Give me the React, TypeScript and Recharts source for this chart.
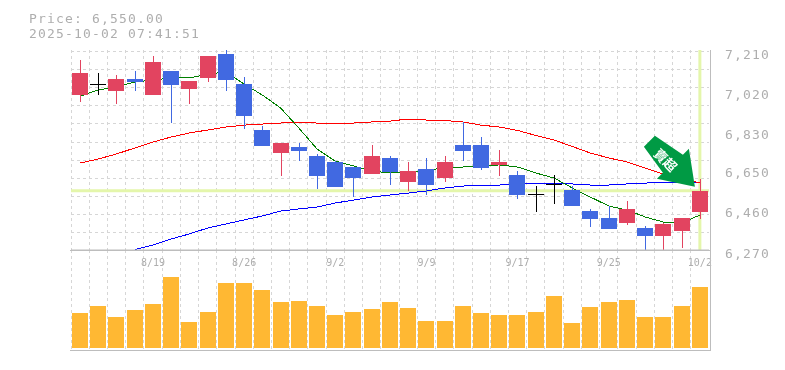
import React from "react";
import { ComposedChart, Bar, Line, XAxis, YAxis, CartesianGrid, ReferenceLine, ReferenceDot } from "recharts";

const dates = ["8/13","8/14","8/15","8/18","8/19","8/20","8/21","8/22","8/25","8/26","8/27","8/28","8/29","9/1","9/2","9/3","9/4","9/5","9/8","9/9","9/10","9/11","9/12","9/16","9/17","9/18","9/19","9/22","9/24","9/25","9/26","9/29","9/30","10/1","10/2"];
const dateTicks = ["8/19","8/26","9/2","9/9","9/17","9/25","10/2"];
const priceTicks = [7210,7020,6830,6650,6460,6270];
const gridPrices = [7210,7125,7040,6955,6870,6780,6695,6610,6525,6440,6355,6270];
const opens = [7002,7053,7021,7078,7002,7116,7031,7083,7196,7054,6837,6728,6757,6714,6686,6662,6629,6705,6591,6653,6610,6766,6766,6672,6624,6535,6582,6553,6454,6421,6398,6374,6336,6360,6450];
const closes = [7106,7053,7078,7064,7158,7049,7068,7186,7073,6903,6761,6775,6738,6620,6568,6610,6714,6638,6643,6577,6686,6738,6657,6686,6530,6535,6582,6478,6416,6369,6464,6336,6393,6421,6550];
const highs = [7168,7106,7097,7116,7186,7116,7068,7186,7215,7087,6856,6775,6775,6724,6690,6662,6766,6714,6686,6705,6714,6875,6804,6742,6643,6572,6624,6572,6464,6478,6501,6383,6398,6421,6605];
const lows = [6969,7002,6960,7021,7002,6870,6960,7064,7021,6842,6761,6620,6690,6558,6568,6520,6629,6577,6549,6530,6591,6690,6648,6620,6511,6450,6487,6478,6379,6369,6388,6270,6270,6279,6416];
const shortMa = [6997,7026,7040,7064,7073,7083,7083,7101,7111,7054,7002,6941,6846,6747,6690,6667,6643,6634,6634,6648,6657,6662,6667,6672,6662,6634,6610,6563,6520,6478,6459,6426,6402,6398,6435];
const midMa = [6681,6700,6724,6752,6780,6804,6823,6837,6851,6860,6865,6870,6872,6870,6870,6870,6875,6879,6889,6884,6882,6875,6860,6851,6835,6811,6790,6759,6728,6705,6686,6657,6629,6605,6587];
const longMa = [null,null,null,6272,6294,6322,6346,6374,6393,6412,6431,6454,6464,6473,6492,6506,6520,6530,6539,6549,6563,6572,6577,6577,6582,6582,6582,6582,6577,6577,6582,6586,6591,6591,6591];
const volumes = [35,42,31,38,44,71,26,36,65,65,58,46,47,42,33,36,39,46,40,27,27,42,35,33,33,36,52,25,41,46,48,31,31,42,61];

const table = dates.map((date, i) => ({
  date,
  open: opens[i],
  close: closes[i],
  high: highs[i],
  low: lows[i],
  range: [lows[i], highs[i]],
  shortMa: shortMa[i],
  midMa: midMa[i],
  longMa: longMa[i],
  volume: volumes[i],
}));

const W = 785;
const GRAY = "#bdbdbd";
const LABEL = "#aeaeae";
const GRID = "#d6d6d6";
const BAND = "#e4f6ab";
const MONO = "'DejaVu Sans Mono', 'Liberation Mono', monospace";
const bandLines = ({ offset }: any) =>
  Array.from({ length: dates.length }, (_, i) => offset.left + (i * offset.width) / dates.length);

const Candle = (p: any) => {
  const { x, y, width, height, payload } = p;
  const perUnit = height / (payload.high - payload.low || 1);
  const top = y + (payload.high - Math.max(payload.open, payload.close)) * perUnit;
  const bottom = y + (payload.high - Math.min(payload.open, payload.close)) * perUnit;
  const color = payload.close > payload.open ? "#e24460" : payload.close < payload.open ? "#4169e1" : "#000000";
  const cx = Math.round(x + width / 2);
  return (
    <g shapeRendering="crispEdges">
      <rect x={cx} y={Math.round(y)} width={1} height={Math.round(height)} fill={color} />
      <rect x={cx - 8} y={Math.round(top)} width={16} height={Math.max(1, Math.round(bottom - top))} fill={color} />
    </g>
  );
};

const VolumeBar = (p: any) => {
  const { x, y, width, height, fill } = p;
  const cx = Math.round(x + width / 2);
  return <rect x={cx - 8} y={y} width={16} height={height} fill={fill} shapeRendering="crispEdges" />;
};

const Arrow = ({ cx, cy }: any) => {
  const pts = [[-45,-55],[-56,-44],[-37,-18],[-43,-12],[-5,-4],[-11,-42],[-17,-36]]
    .map(([a, b]) => `${cx + a},${cy + b}`).join(" ");
  const tx = cx - 34;
  const ty = cy - 31;
  return (
    <g>
      <polygon points={pts} fill="#009a44" />
      <text x={tx} y={ty} fill="#ffffff" fontSize={13} fontWeight={700} fontFamily="'Noto Sans CJK TC'"
        textAnchor="middle" dominantBaseline="central" transform={`rotate(45 ${tx} ${ty})`}>賣超</text>
    </g>
  );
};

export default function App() {
  return (
    <div style={{ position: "absolute", left: 0, top: 0, width: W, height: 370, background: "#fff", overflow: "hidden" }}>
      <div style={{ position: "absolute", left: 29, top: 11, fontFamily: MONO, fontSize: 13, letterSpacing: 1.17, lineHeight: "15px", color: LABEL, whiteSpace: "pre", willChange: "opacity" }}>
        <div>Price: 6,550.00</div>
        <div>2025-10-02 07:41:51</div>
      </div>
      <div style={{ position: "absolute", left: 0, top: 250 }}>
        <ComposedChart width={W} height={110} data={table} margin={{ top: 0, left: 71, right: 1, bottom: 10 }}>
          <CartesianGrid horizontal={false} stroke={GRID} strokeDasharray="3 3" shapeRendering="crispEdges" verticalCoordinatesGenerator={bandLines} />
          <XAxis dataKey="date" height={0} tick={false} tickLine={false} axisLine={false} />
          <YAxis orientation="right" width={75} domain={[-2, 98]} allowDataOverflow tick={false} tickLine={false} axisLine={false} />
          <Bar dataKey="volume" fill="#ffb833" barSize={16} shape={<VolumeBar />} isAnimationActive={false} />
        </ComposedChart>
      </div>
      <div style={{ position: "absolute", left: 0, top: 0 }}>
        <ComposedChart width={W} height={280} data={table} margin={{ top: 50, left: 71, right: 1, bottom: 10 }}>
          <CartesianGrid stroke={GRID} strokeDasharray="3 3" shapeRendering="crispEdges" horizontalValues={gridPrices} verticalCoordinatesGenerator={bandLines} />
          <XAxis dataKey="date" height={20} ticks={dateTicks} interval={0} tickLine={false} tickMargin={3} axisLine={{ stroke: GRAY }}
            tick={{ fill: LABEL, fontSize: 10, fontFamily: MONO }} />
          <YAxis orientation="right" width={75} domain={[6270, 7215]} allowDataOverflow ticks={priceTicks} interval={0}
            tickLine={false} tickMargin={10} axisLine={false} tickFormatter={(v: number) => v.toLocaleString("en-US")}
            tick={{ fill: LABEL, fontSize: 13, fontFamily: MONO, dy: 3, letterSpacing: 1.17 }} />
          <ReferenceLine y={6550} stroke={BAND} strokeWidth={3} zIndex={100} />
          <ReferenceLine x="10/2" stroke={BAND} strokeWidth={3} zIndex={100} />
          <Line dataKey="longMa" stroke="#0000ff" strokeWidth={1} dot={false} activeDot={false} isAnimationActive={false} shapeRendering="crispEdges" />
          <Line dataKey="midMa" stroke="#ff0000" strokeWidth={1} dot={false} activeDot={false} isAnimationActive={false} shapeRendering="crispEdges" />
          <Line dataKey="shortMa" stroke="#008000" strokeWidth={1} dot={false} activeDot={false} isAnimationActive={false} shapeRendering="crispEdges" />
          <Bar dataKey="range" barSize={16} shape={<Candle />} isAnimationActive={false} zIndex={450} />
          <ReferenceDot x="10/2" y={6550} shape={<Arrow />} zIndex={600} ifOverflow="visible" />
        </ComposedChart>
      </div>
      <div style={{ position: "absolute", zIndex: 10, left: 710, top: 50, width: 1, height: 301, background: GRAY }} />
      <div style={{ position: "absolute", zIndex: 10, left: 70, top: 350, width: 641, height: 1, background: GRAY }} />
      <div style={{ position: "absolute", zIndex: 10, left: 70, top: 250, width: 641, height: 1, background: GRAY }} />
    </div>
  );
}
